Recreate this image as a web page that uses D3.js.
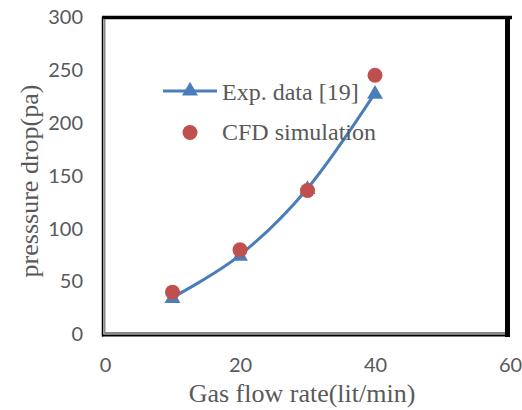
<!DOCTYPE html>
<meta charset="utf-8">
<style>
body { margin: 0; background: #fff; }
.tick text { font-family: Lato, "Open Sans", sans-serif; font-size: 20px; fill: #595959; }
.lbl { font-family: "Liberation Serif", "Times New Roman", serif; fill: #595959; }
</style>
<body>
<script src="https://cdn.jsdelivr.net/npm/d3@7"></script>
<script>

// data
var flowRate = [10, 20, 30, 40];
var expData = [35, 75, 138, 228];
var cfdData = [40, 80, 136, 245];
var xTicks = [0, 20, 40, 60];
var yTicks = [0, 50, 100, 150, 200, 250, 300];

var blue = "#4a7ebb", red = "#c0504d";

var svg = d3.select("body").append("svg")
    .attr("width", 522)
    .attr("height", 410);

var x = d3.scaleLinear().domain([0, 60]).range([105, 510]);
var y = d3.scaleLinear().domain([0, 300]).range([334.5, 17]);

// axes (no lines, only labels)
svg.append("g")
    .attr("transform", "translate(105,0)")
    .call(d3.axisLeft(y).tickValues(yTicks).tickSize(0).tickPadding(22))
    .call(function(g) { g.select(".domain").remove(); });

svg.append("g")
    .attr("transform", "translate(0,334.5)")
    .call(d3.axisBottom(x).tickValues(xTicks).tickSize(0).tickPadding(23))
    .call(function(g) { g.select(".domain").remove(); });

// frame with the shaded edge like the original
var L = x(0), R = x(60), T = y(300), B = y(0);
svg.append("line").attr("x1", L - 3).attr("x2", R + 2).attr("y1", T + 0.5).attr("y2", T + 0.5)
    .attr("stroke", "#000").attr("stroke-width", 3.5);
svg.append("line").attr("x1", R - 2.5).attr("x2", R - 2.5).attr("y1", T - 1).attr("y2", B + 2.5)
    .attr("stroke", "#000").attr("stroke-width", 5);
svg.append("line").attr("x1", L - 2.5).attr("x2", L - 2.5).attr("y1", T).attr("y2", B + 2)
    .attr("stroke", "#000").attr("stroke-width", 1.5);
svg.append("line").attr("x1", L - 0.5).attr("x2", L - 0.5).attr("y1", T + 2).attr("y2", B - 1)
    .attr("stroke", "#888").attr("stroke-width", 2);
svg.append("line").attr("x1", L - 0.5).attr("x2", R - 5).attr("y1", B - 1.5).attr("y2", B - 1.5)
    .attr("stroke", "#888").attr("stroke-width", 2);
svg.append("line").attr("x1", L - 3).attr("x2", R).attr("y1", B + 1).attr("y2", B + 1)
    .attr("stroke", "#000").attr("stroke-width", 2);

// smoothed experimental line
var pts = flowRate.map(function(d, i) { return [d, expData[i]]; });
var line = d3.line()
    .x(function(d) { return x(d[0]); })
    .y(function(d) { return y(d[1]); })
    .curve(d3.curveCatmullRom.alpha(0));

svg.append("path")
    .attr("d", line(pts))
    .attr("fill", "none")
    .attr("stroke", blue)
    .attr("stroke-width", 3);

var tri = d3.symbol().type(d3.symbolTriangle).size(110);

svg.selectAll(".tri").data(pts).enter().append("path")
    .attr("class", "tri")
    .attr("d", tri)
    .attr("transform", function(d) { return "translate(" + x(d[0]) + "," + (y(d[1]) + 1) + ")"; })
    .attr("fill", blue);

svg.selectAll(".dot").data(flowRate).enter().append("circle")
    .attr("class", "dot")
    .attr("cx", function(d) { return x(d); })
    .attr("cy", function(d, i) { return y(cfdData[i]); })
    .attr("r", 7.5)
    .attr("fill", red);

// legend
svg.append("line").attr("x1", 163).attr("x2", 217).attr("y1", 91).attr("y2", 91)
    .attr("stroke", blue).attr("stroke-width", 3);
svg.append("path").attr("d", tri).attr("transform", "translate(190,91)").attr("fill", blue);
svg.append("text").attr("class", "lbl").attr("x", 222).attr("y", 100)
    .style("font-size", "24px").text("Exp. data [19]");
svg.append("circle").attr("cx", 190).attr("cy", 132.5).attr("r", 7.5).attr("fill", red);
svg.append("text").attr("class", "lbl").attr("x", 222).attr("y", 140)
    .style("font-size", "24px").text("CFD simulation");

// axis titles
svg.append("text").attr("class", "lbl")
    .attr("x", 302).attr("y", 402)
    .attr("text-anchor", "middle")
    .style("font-size", "26px")
    .text("Gas flow rate(lit/min)");

svg.append("text").attr("class", "lbl")
    .attr("transform", "translate(38,181) rotate(-90)")
    .attr("text-anchor", "middle")
    .style("font-size", "26px")
    .text("presssure drop(pa)");

</script>
</body>
